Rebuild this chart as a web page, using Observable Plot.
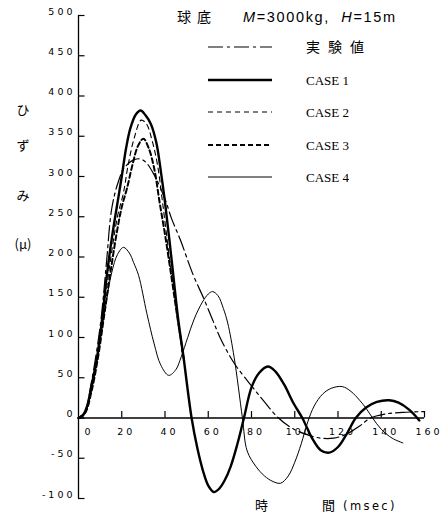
<!DOCTYPE html>
<html>
<head>
<meta charset="utf-8">
<script src="https://cdn.jsdelivr.net/npm/d3@7"></script>
<script src="https://cdn.jsdelivr.net/npm/@observablehq/plot@0.6"></script>
<style>
  body { margin: 0; background: #fff; }
  #wrap { position: relative; width: 441px; height: 516px; }
  #wrap svg { position: absolute; left: 0; top: 0; }
</style>
</head>
<body>
<div id="wrap"></div>
<script>
// ---- data (t in msec, strain in μ) ----
const xTicks = [0, 20, 40, 60, 80, 100, 120, 140, 160];
const yTicks = [-100, -50, 0, 50, 100, 150, 200, 250, 300, 350, 400, 450, 500];

const seriesNames = ["実験値", "CASE 1", "CASE 2", "CASE 3", "CASE 4"];

const expData = [[0,0],[3,8],[6,45],[8.5,85],[10.6,127],[13,195],[15.3,259],[18,290],[21,310],[25,320],[28,322],[31,318],[35,302],[40,272],[43,248],[47,222],[53,178],[58,148],[62,122],[66,97],[72,68],[80,40],[86,20],[92.5,0],[99,-13],[106,-21],[112,-25],[118,-25],[124,-20],[130,-10],[135,0],[142,5],[150,7],[160,8]];

const case1 = [[0,0],[2,3],[4,15],[6,40],[8.5,74],[10.8,120],[13,175],[15.5,225],[18.5,275],[20,300],[22,335],[24,360],[26.5,377],[28.7,382],[31,376],[33.5,365],[36,342],[38,308],[40,268],[43,198],[46,125],[48.5,77],[52.3,0],[55,-38],[57.5,-65],[60,-84],[62.6,-92],[65,-88],[67.5,-78],[70.4,-60],[73.5,-32],[76.5,0],[80,38],[83.5,56],[87.6,64],[91,58],[95,42],[99.5,18],[103.5,0],[108,-25],[112,-40],[116,-43],[120,-36],[124,-20],[128.2,0],[133,13],[138,20],[143.7,22],[148,19],[153,10],[157.6,-3]];

const case2 = [[0,0],[3,6],[6,35],[9,80],[12,140],[15,200],[18,250],[20.8,280],[23,315],[26,350],[29,370],[31.5,365],[34,345],[36.5,315],[39,265],[42,200],[45,140],[48,80]];

const case3 = [[0,0],[3,6],[6,33],[9,75],[12,130],[15,185],[18,235],[20,262],[22.4,285],[25,315],[27.5,338],[30,347],[32.5,335],[35,310],[37.5,268],[40,228],[43,175],[46,120],[49,68]];

const case4 = [[0,0],[3,8],[6,40],[9,80],[12.3,136],[15.4,181],[18,203],[20.8,212],[23.5,205],[25.5,193],[27.8,177],[31.6,130],[35,92],[38,66],[41.7,53],[45,60],[47.5,76],[50.5,100],[53.5,123],[57.3,144],[60,154],[62,157],[64.5,152],[67,136],[69,118],[72,75],[75.8,0],[78,-41],[82,-60],[86,-72],[90,-79],[93.5,-81],[97,-72],[100,-55],[103,-32],[106,-5],[109,15],[113,30],[117,37],[122,39],[126,33],[130,22],[133,12],[136,0],[140,-14],[145,-25],[150,-31]];

const styles = [
  {data: expData, strokeWidth: 1.2, dash: "15,4,3,4"},
  {data: case1, strokeWidth: 2.4, dash: null},
  {data: case2, strokeWidth: 1.1, dash: "5,4"},
  {data: case3, strokeWidth: 2, dash: "5,3"},
  {data: case4, strokeWidth: 1, dash: null}
];

const spaced = d => String(d).split("").join(" ");

const lineMarks = styles.map(s => Plot.line(s.data, {
  x: d => d[0], y: d => d[1], stroke: "black",
  strokeWidth: s.strokeWidth, strokeDasharray: s.dash, curve: "catmull-rom"
}));

const chart = Plot.plot({
  width: 441, height: 516,
  marginLeft: 78, marginRight: 17, marginTop: 15, marginBottom: 18,
  x: {domain: [0, 160], axis: null},
  y: {domain: [-100, 500], axis: null},
  style: {fontFamily: "DejaVu Sans", background: "white"},
  marks: [
    Plot.ruleX([0], {y1: -100, y2: 500, stroke: "black", strokeWidth: 1.3}),
    Plot.ruleY([0], {x1: 0, x2: 160, stroke: "black", strokeWidth: 1.3}),
    Plot.ruleY(yTicks, {y: d => d, x1: 0, x2: 3, stroke: "black", strokeWidth: 1.2}),
    Plot.ruleX(xTicks.filter(d => d > 0), {x: d => d, y1: 0, y2: 8, stroke: "black", strokeWidth: 1.2}),
    Plot.text(yTicks, {x: 0, y: d => d, text: spaced, textAnchor: "end", dx: -6, dy: -4, fontSize: 9.5, fill: "black"}),
    Plot.text(xTicks.filter(d => d > 0), {x: d => d, y: 0, text: spaced, dx: 3, dy: 14, fontSize: 9.5, fill: "black"}),
    Plot.text(xTicks.filter(d => d === 0), {x: d => d, y: 0, text: spaced, dx: 9, dy: 14, fontSize: 9.5, fill: "black"}),
    ...lineMarks
  ]
});

const wrap = document.getElementById("wrap");
wrap.appendChild(chart);

// overlay: title, axis labels, legend
const ov = d3.select(wrap).append("svg")
  .attr("width", 441).attr("height", 516)
  .style("pointer-events", "none");

const cjk = "'Noto Sans CJK JP', sans-serif";

ov.append("text").attr("x", 177).attr("y", 22).attr("font-family", cjk).attr("font-size", 14)
  .attr("letter-spacing", 6).text("球底");
const t2 = ov.append("text").attr("x", 243).attr("y", 22).attr("font-family", "'Liberation Sans', sans-serif")
  .attr("font-size", 14.5).attr("textLength", 152).attr("lengthAdjust", "spacing");
t2.append("tspan").attr("font-style", "italic").text("M");
t2.append("tspan").text("=3000kg,\u00A0\u00A0");
t2.append("tspan").attr("font-style", "italic").text("H");
t2.append("tspan").text("=15m");

// y-axis label (vertical stack)
const yLab = [["ひ", 115], ["ず", 150], ["み", 200], ["(μ)", 249]];
yLab.forEach(([s, y]) => {
  ov.append("text").attr("x", 23).attr("y", y).attr("text-anchor", "middle")
    .attr("font-family", cjk).attr("font-size", 13).text(s);
});

// x-axis label
ov.append("text").attr("x", 255).attr("y", 510).attr("font-family", cjk).attr("font-size", 13).text("時");
ov.append("text").attr("x", 322).attr("y", 510).attr("font-family", cjk).attr("font-size", 13).text("間");
ov.append("text").attr("x", 343).attr("y", 510).attr("font-family", "'DejaVu Sans', sans-serif").attr("font-size", 11.5)
  .attr("letter-spacing", 2.4).text("(msec)");

// legend
const legY = [47, 80, 112, 145, 177];
styles.forEach((s, i) => {
  ov.append("line").attr("x1", 208).attr("x2", 272).attr("y1", legY[i]).attr("y2", legY[i])
    .attr("stroke", "black").attr("stroke-width", s.strokeWidth)
    .attr("stroke-dasharray", s.dash);
  ov.append("text").attr("x", 306).attr("y", legY[i] + 5)
    .attr("font-family", i === 0 ? cjk : "'Liberation Serif', serif")
    .attr("letter-spacing", i === 0 ? 8 : 0)
    .attr("font-size", i === 0 ? 14 : 13).text(seriesNames[i]);
});
</script>
</body>
</html>
